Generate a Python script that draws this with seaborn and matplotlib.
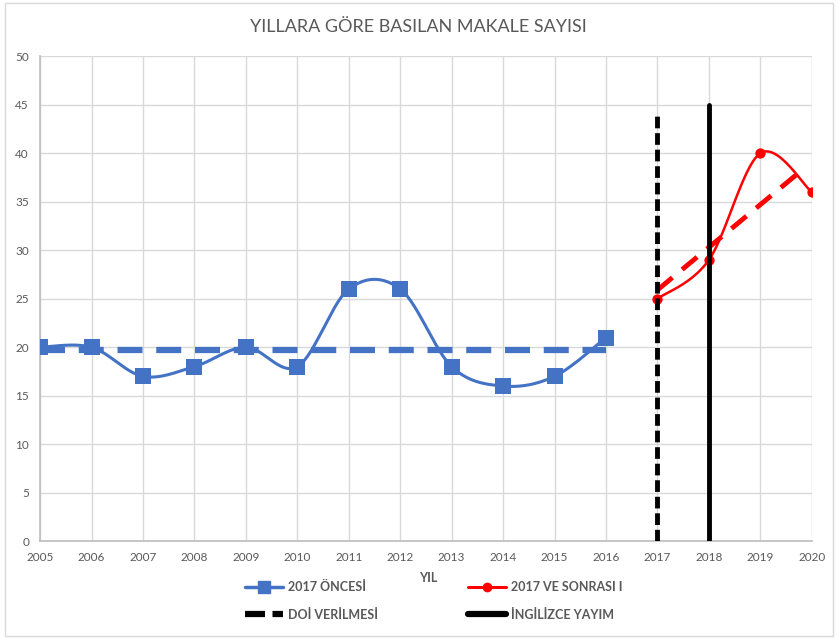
import numpy as np
import pandas as pd
import matplotlib
matplotlib.use("Agg")
import matplotlib.pyplot as plt
import seaborn as sns
from matplotlib.lines import Line2D
from matplotlib.patches import Rectangle

# ---- data ----
years_before = [2005, 2006, 2007, 2008, 2009, 2010, 2011, 2012, 2013, 2014, 2015, 2016]
counts_before = [20, 20, 17, 18, 20, 18, 26, 26, 18, 16, 17, 21]
years_after = [2017, 2018, 2019, 2020]
counts_after = [25, 29, 40, 36]
doi_year = 2017
doi_top = 44
eng_year = 2018
eng_top = 45
x_ticks = list(range(2005, 2021))
y_ticks = list(range(0, 51, 5))

title = "YILLARA GÖRE BASILAN MAKALE SAYISI"
xlabel = "YIL"
lbl_before = "2017 ÖNCESİ"
lbl_after = "2017 VE SONRASI I"
lbl_doi = "DOİ VERİLMESİ"
lbl_eng = "İNGİLİZCE YAYIM"

sns.set_theme(style="white")
plt.rcParams['font.family'] = ['Lato', 'DejaVu Sans']
leg_size = 9.0


def smooth(xs, ys, n=30):
    """Excel-like smoothed line (cubic Bezier, Catmull-Rom control points)."""
    xs = np.asarray(xs, float)
    ys = np.asarray(ys, float)
    P = np.column_stack([xs, ys])
    out = []
    m = len(P)
    for i in range(m - 1):
        p0 = P[max(i - 1, 0)]
        p1 = P[i]
        p2 = P[i + 1]
        p3 = P[min(i + 2, m - 1)]
        c1 = p1 + (p2 - p0) / 6.0
        c2 = p2 - (p3 - p1) / 6.0
        t = np.linspace(0, 1, n)[:, None]
        seg = ((1 - t) ** 3) * p1 + 3 * ((1 - t) ** 2) * t * c1 + 3 * (1 - t) * t ** 2 * c2 + t ** 3 * p2
        out.append(seg if i == 0 else seg[1:])
    pts = np.vstack(out)
    return pts[:, 0], pts[:, 1]


fig = plt.figure(figsize=(8.36, 6.39), dpi=100)
ax = fig.add_axes([0.048, 0.153, 0.923, 0.759])

blue = "#4472C4"
red = "#FF0000"

# blue smoothed series
sx, sy = smooth(years_before, counts_before)
sns.lineplot(x=sx, y=sy, ax=ax, color=blue, lw=2.2, sort=False, estimator=None)
sns.scatterplot(x=years_before, y=counts_before, ax=ax, color=blue, marker="s", s=120,
                edgecolor=blue, linewidth=0, zorder=5)
# blue trendline (mean)
mean_b = np.mean(counts_before)
ax.plot([years_before[0], years_before[-1]], [mean_b, mean_b], color=blue, lw=4.5,
        dashes=(4, 2.2), zorder=3)

# red smoothed series
rx, ry = smooth(years_after, counts_after)
sns.lineplot(x=rx, y=ry, ax=ax, color=red, lw=1.8, sort=False, estimator=None)
sns.scatterplot(x=years_after, y=counts_after, ax=ax, color=red, marker="o", s=55,
                edgecolor=red, linewidth=0, zorder=5)
# red linear trendline
coef = np.polyfit(years_after, counts_after, 1)
tx = np.array([years_after[0], years_after[-1] - 0.15])
ax.plot(tx, np.polyval(coef, tx), color=red, lw=3.5, dashes=(4, 2.6), zorder=3)

# vertical markers
ax.plot([doi_year, doi_year], [0, doi_top], color="black", lw=3.5, dashes=(2.4, 1.0), zorder=6)
ax.plot([eng_year, eng_year], [0, eng_top], color="black", lw=3.5, zorder=6)

ax.set_xlim(2005, 2020)
ax.set_ylim(0, 50)
ax.set_xticks(x_ticks)
ax.set_yticks(y_ticks)
ax.set_xticklabels([str(v) for v in x_ticks], fontsize=8.5, color="#595959")
ax.set_yticklabels([str(v) for v in y_ticks], fontsize=8.5, color="#595959")
ax.tick_params(axis="both", length=0, pad=8)
ax.grid(True, color="#D9D9D9", lw=1)
ax.set_axisbelow(True)
for side in ["top", "right"]:
    ax.spines[side].set_visible(False)
ax.spines["left"].set_color("#BFBFBF")
ax.spines["bottom"].set_color("#BFBFBF")

fig.text(0.5, 0.957, title, ha="center", va="center", fontsize=13, color="#595959")
fig.text(0.512, 0.095, xlabel, ha="center", va="center", fontsize=9, color="#595959",
         fontweight="bold")

h_blue = Line2D([], [], color=blue, lw=2.5, marker="s", markersize=8.5)
h_doi = Line2D([], [], color="black", lw=4.5, dashes=(3.2, 1.2))
h_red = Line2D([], [], color=red, lw=2.2, marker="o", markersize=6)
h_eng = Line2D([], [], color="black", lw=4.5)

em = leg_size * 100 / 72
leg_kw = dict(loc="center left", frameon=False, handlelength=38 / em, handletextpad=5 / em,
              labelspacing=(28 - em) / em, borderpad=0, borderaxespad=0,
              prop={"size": leg_size, "weight": "bold"})
leg1 = fig.legend([h_blue, h_doi], [lbl_before, lbl_doi],
                  bbox_to_anchor=(245 / 836, 1 - 601 / 639), **leg_kw)
leg2 = fig.legend([h_red, h_eng], [lbl_after, lbl_eng],
                  bbox_to_anchor=(468 / 836, 1 - 601 / 639), **leg_kw)
for lg in (leg1, leg2):
    for t in lg.get_texts():
        t.set_color("#595959")

fig.patches.append(Rectangle((0.006, 0.005), 0.99, 0.99, transform=fig.transFigure,
                             fill=False, edgecolor="#D9D9D9", lw=1))

fig.savefig("out.png", dpi=100)
